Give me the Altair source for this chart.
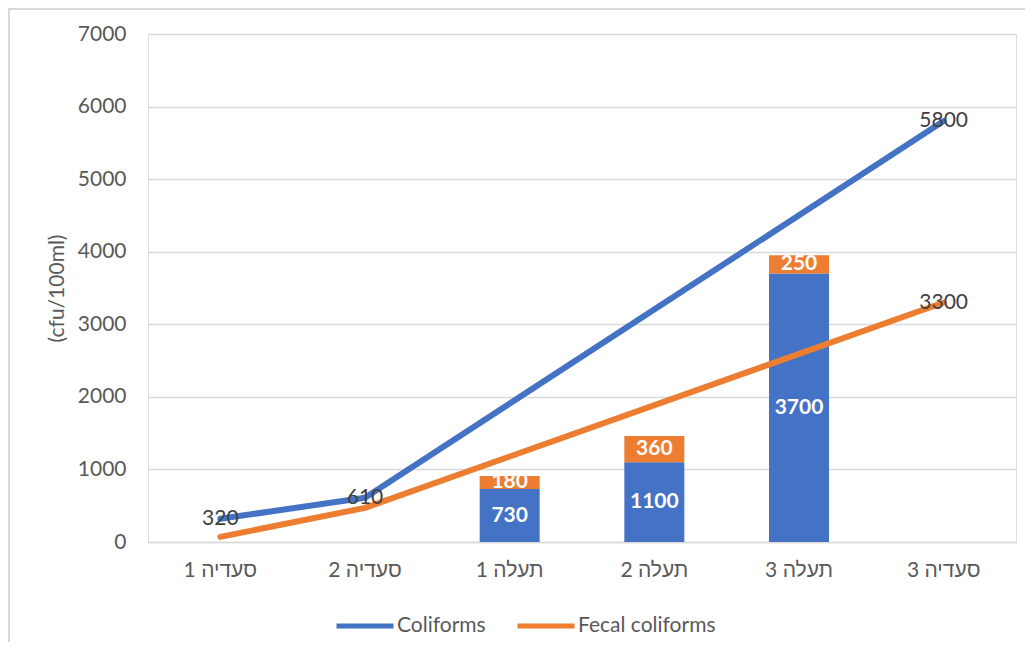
import altair as alt
import pandas as pd

# ---- data ----
categories = ["סעדיה 1", "סעדיה 2", "תעלה 1", "תעלה 2", "תעלה 3", "סעדיה 3"]
series_names = ["Coliforms", "Fecal coliforms"]
series_colors = ["#4472C4", "#ED7D31"]

# line values (None = no point at that category)
coliforms_line = [320, 610, None, None, None, 5800]
fecal_line = [70, 470, None, None, None, 3300]
# which line points carry a value label
coliforms_labeled = [True, True, False, False, False, True]
fecal_labeled = [False, False, False, False, False, True]

# stacked bar values
coliforms_bar = [None, None, 730, 1100, 3700, None]
fecal_bar = [None, None, 180, 360, 250, None]

y_ticks = [0, 1000, 2000, 3000, 4000, 5000, 6000, 7000]
y_title = "(cfu/100ml)"

# ---- tables ----
line_rows, label_rows, bar_rows = [], [], []
for i, c in enumerate(categories):
    for s, vals, labs in ((series_names[0], coliforms_line, coliforms_labeled),
                          (series_names[1], fecal_line, fecal_labeled)):
        if vals[i] is not None:
            line_rows.append({"category": c, "series": s, "value": vals[i]})
            if labs[i]:
                label_rows.append({"category": c, "series": s, "value": vals[i]})
    for k, (s, vals) in enumerate(((series_names[0], coliforms_bar),
                                   (series_names[1], fecal_bar))):
        if vals[i] is not None:
            bar_rows.append({"category": c, "series": s, "value": vals[i], "k": k})

line_df = pd.DataFrame(line_rows)
label_df = pd.DataFrame(label_rows)
bar_df = pd.DataFrame(bar_rows)

FONT = "Lato, Liberation Sans, sans-serif"
TEXT = "#595959"
GRID = "#d9d9d9"

x_scale = alt.Scale(type="band", domain=categories, paddingInner=0, paddingOuter=0)
y_scale = alt.Scale(domain=[0, 7000], nice=False)
color_scale = alt.Scale(domain=series_names, range=series_colors)

legend = alt.Legend(title=None, orient="none", legendX=186, legendY=561,
                    direction="horizontal", symbolType="stroke",
                    symbolSize=3249, symbolStrokeWidth=5,
                    labelFont=FONT, labelFontSize=21, labelColor=TEXT,
                    labelOffset=1, columnPadding=21)

x_axis = alt.Axis(title=None, labelAngle=0, labelFont=FONT, labelFontSize=21,
                  labelColor=TEXT, labelPadding=17, ticks=False,
                  domain=True, domainColor=GRID, domainWidth=1.5, grid=False)
y_axis = alt.Axis(title=y_title, values=y_ticks, format="d", labelFont=FONT, labelFontSize=21,
                  labelColor=TEXT, labelPadding=22, ticks=False, domain=False,
                  grid=True, gridColor=GRID, gridWidth=1.5,
                  titleFont=FONT, titleFontSize=21, titleFontWeight="normal",
                  titleColor=TEXT, titlePadding=10)

x_enc = alt.X("category:N", scale=x_scale, sort=categories, axis=x_axis)

one = pd.DataFrame({"k": [0]})
frame_left = alt.Chart(one).mark_rule(stroke=GRID, strokeWidth=2).encode(
    x=alt.value(-139), y=alt.value(-26), y2=alt.value(700))
frame_top = alt.Chart(one).mark_rule(stroke=GRID, strokeWidth=2).encode(
    x=alt.value(-139), x2=alt.value(900), y=alt.value(-25))

stacked = alt.Chart(bar_df).transform_stack(
    stack="value", groupby=["category"], as_=["v0", "v1"],
    sort=[alt.SortField("k", order="ascending")]
).transform_calculate(mid="(datum.v0 + datum.v1) / 2")

bars = stacked.mark_bar(width=60).encode(
    x=x_enc,
    y=alt.Y("v0:Q", scale=y_scale, axis=y_axis),
    y2="v1:Q",
    color=alt.Color("series:N", scale=color_scale, legend=legend),
)

bar_text = stacked.mark_text(font=FONT, fontSize=21, fontWeight="bold", color="white",
                             baseline="middle").encode(
    x=x_enc,
    y=alt.Y("mid:Q", scale=y_scale, axis=y_axis),
    text=alt.Text("value:Q"),
)

lines = alt.Chart(line_df).mark_line(strokeWidth=6, strokeCap="round", strokeJoin="round").encode(
    x=x_enc,
    y=alt.Y("value:Q", scale=y_scale, axis=y_axis),
    color=alt.Color("series:N", scale=color_scale, legend=legend),
    detail="series:N",
)

line_text = alt.Chart(label_df).mark_text(font=FONT, fontSize=21, color="#404040",
                                          baseline="middle").encode(
    x=x_enc,
    y=alt.Y("value:Q", scale=y_scale, axis=y_axis),
    text=alt.Text("value:Q"),
)

chart = alt.layer(frame_left, frame_top, bars, bar_text, lines, line_text).properties(
    width=868, height=508,
    autosize=alt.AutoSizeParams(type="none"),
    padding={"left": 140, "top": 26, "right": 9, "bottom": 100},
).configure_view(strokeWidth=0, stroke=None).configure_axisY(domain=False).configure(background="white")

chart.save("out.html", embed_options={"renderer": "svg", "actions": False})
